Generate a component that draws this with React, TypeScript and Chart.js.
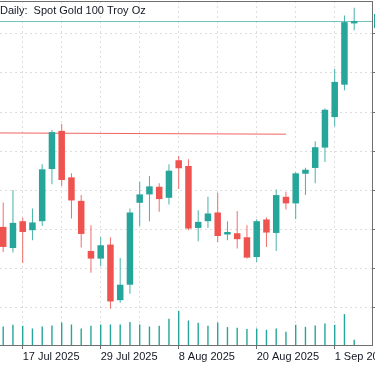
import { useEffect, useRef } from 'react';
import { Chart, registerables } from 'chart.js';

Chart.register(...registerables);

// ---------- data ----------
const dates = [
  '15 Jul 2025', '16 Jul 2025', '17 Jul 2025', '18 Jul 2025', '21 Jul 2025', '22 Jul 2025', '23 Jul 2025',
  '24 Jul 2025', '25 Jul 2025', '28 Jul 2025', '29 Jul 2025', '30 Jul 2025', '31 Jul 2025', '1 Aug 2025',
  '4 Aug 2025', '5 Aug 2025', '6 Aug 2025', '7 Aug 2025', '8 Aug 2025', '11 Aug 2025', '12 Aug 2025',
  '13 Aug 2025', '14 Aug 2025', '15 Aug 2025', '18 Aug 2025', '19 Aug 2025', '20 Aug 2025', '21 Aug 2025',
  '22 Aug 2025', '25 Aug 2025', '26 Aug 2025', '27 Aug 2025', '28 Aug 2025', '29 Aug 2025', '1 Sep 2025',
  '2 Sep 2025', '3 Sep 2025',
];

const openP = [3362.7, 3341.1, 3368.5, 3359.3, 3368.5, 3421.8, 3460.8, 3413.3, 3389.3, 3338.1, 3330.3, 3344.6, 3287.8, 3303.6, 3387.3, 3395.9, 3403.7, 3392.4, 3430.8, 3424.9, 3361.6, 3368.5, 3377.4, 3354.9, 3356.2, 3352.1, 3331.9, 3370.3, 3356.5, 3393.4, 3386.7, 3417.0, 3422.9, 3443.7, 3474.9, 3508.0, 3570.6];
const highP = [3387.7, 3400.3, 3371.9, 3381.5, 3426.7, 3461.8, 3467.7, 3417.4, 3395.2, 3364.4, 3352.4, 3352.1, 3330.9, 3381.5, 3408.8, 3414.7, 3407.2, 3426.7, 3435.2, 3431.8, 3379.8, 3393.4, 3397.5, 3368.5, 3378.8, 3364.4, 3370.6, 3372.3, 3401.0, 3398.6, 3418.5, 3423.2, 3450.3, 3483.7, 3524.1, 3578.8, 3586.7];
const lowP = [3337.0, 3336.4, 3325.7, 3349.0, 3363.7, 3406.2, 3404.4, 3371.3, 3341.5, 3315.9, 3322.7, 3279.0, 3285.1, 3294.4, 3363.7, 3368.5, 3378.1, 3385.6, 3401.3, 3359.3, 3348.0, 3361.6, 3347.3, 3349.0, 3340.5, 3330.5, 3326.8, 3342.2, 3338.1, 3380.5, 3370.6, 3395.2, 3407.2, 3429.0, 3465.2, 3502.2, 3563.7];
const closeP = [3342.2, 3366.8, 3357.5, 3367.2, 3421.5, 3459.5, 3410.6, 3389.7, 3355.5, 3330.3, 3343.9, 3286.5, 3303.6, 3377.4, 3395.9, 3404.1, 3391.1, 3420.1, 3422.6, 3361.0, 3367.8, 3376.4, 3353.4, 3357.5, 3350.1, 3331.3, 3368.5, 3356.9, 3395.2, 3386.7, 3417.4, 3421.1, 3444.1, 3482.4, 3510.8, 3571.9, 3573.1];
const volume = [18500, 20200, 19200, 16500, 18500, 19500, 22500, 20500, 16500, 19200, 20500, 20500, 20500, 22900, 20500, 18500, 19200, 26200, 34200, 24500, 22200, 19200, 22500, 17900, 17200, 15900, 16500, 15200, 16500, 13200, 20200, 18200, 19500, 21500, 20200, 30900, 5200];

// resistance line (start index, end index) and its levels
const resistanceX = [-1, 29];
const resistanceY = [3458.7, 3457.4];

// axis ticks
const priceTicks = [3280, 3320, 3360, 3400, 3440, 3480, 3520, 3560];
const gridTickIdx = [2, 6, 10, 14, 18, 22, 26, 30, 34];
const labelTickIdx = [2, 10, 18, 26, 34];

const titleText = 'Daily:  Spot Gold 100 Troy Oz';

// ---------- style ----------
const UP = '#26a69a';
const DOWN = '#ef5350';
const GRID = 'rgba(0,0,0,0.13)';
const AXIS = '#6f6f6f';
const TEXT = '#131722';
const FONT = '"Liberation Sans", Arial, sans-serif';

const X_MIN = -0.328;
const X_MAX = 37.826;
const Y_MIN = 3242.0;
const Y_MAX = 3593.5;
const VOL_MAX = 344000;

const overlayPlugin = {
  id: 'overlay',
  beforeDraw(chart: any) {
    const { ctx, width, height } = chart;
    ctx.save();
    ctx.fillStyle = '#ffffff';
    ctx.fillRect(0, 0, width, height);
    ctx.restore();
  },
  beforeDatasetsDraw(chart: any) {
    const { ctx, chartArea } = chart;
    const y = chart.scales.y.getPixelForValue(closeP[closeP.length - 1]);
    ctx.save();
    ctx.strokeStyle = 'rgba(38,166,154,0.65)';
    ctx.lineWidth = 1;
    ctx.beginPath();
    ctx.moveTo(0, Math.round(y) + 0.5);
    ctx.lineTo(chartArea.right, Math.round(y) + 0.5);
    ctx.stroke();
    ctx.restore();
  },
  afterDraw(chart: any) {
    const { ctx, chartArea, width } = chart;
    ctx.save();
    // top frame
    ctx.strokeStyle = AXIS;
    ctx.lineWidth = 1;
    ctx.beginPath();
    ctx.moveTo(0, chartArea.top + 0.5);
    ctx.lineTo(chartArea.right + 1, chartArea.top + 0.5);
    ctx.stroke();
    // title
    ctx.fillStyle = TEXT;
    ctx.font = '11px ' + FONT;
    ctx.textAlign = 'left';
    ctx.textBaseline = 'alphabetic';
    ctx.fillText(titleText, 0, chartArea.top + 13);
    // price tag on the right axis
    const y = chart.scales.y.getPixelForValue(closeP[closeP.length - 1]);
    ctx.fillStyle = UP;
    ctx.fillRect(chartArea.right + 2, y - 7, width, 14);
    ctx.restore();
  },
};

export default function App() {
  const ref = useRef<HTMLCanvasElement>(null);

  useEffect(() => {
    document.body.style.margin = '0';
    const idx = dates.map((_, i) => i);
    const colors = idx.map((i) => (closeP[i] >= openP[i] ? UP : DOWN));

    const chart = new Chart(ref.current as HTMLCanvasElement, {
      type: 'bar',
      data: {
        datasets: [
          {
            type: 'line',
            data: resistanceX.map((x, i) => ({ x, y: resistanceY[i] })),
            borderColor: 'rgba(239,83,80,0.9)',
            borderWidth: 1,
            pointRadius: 0,
            yAxisID: 'y',
            order: 6,
          } as any,
          {
            data: idx.map((i) => ({ x: i, y: volume[i] })),
            backgroundColor: UP,
            barThickness: 1.4,
            grouped: false,
            inflateAmount: 0,
            yAxisID: 'y2',
            order: 5,
          },
          {
            data: idx.map((i) => ({ x: i, y: [lowP[i], highP[i]] })),
            backgroundColor: colors.map((c) => (c === UP ? 'rgba(38,166,154,0.85)' : 'rgba(239,83,80,0.85)')),
            barThickness: 1,
            grouped: false,
            inflateAmount: 0,
            yAxisID: 'y',
            order: 2,
          },
          {
            data: idx.map((i) => ({ x: i, y: [openP[i], closeP[i]] })),
            backgroundColor: colors,
            barThickness: 6.5,
            grouped: false,
            inflateAmount: 0,
            yAxisID: 'y',
            order: 1,
          },
        ] as any,
      },
      options: {
        animation: false,
        responsive: false,
        devicePixelRatio: 1,
        layout: { padding: { top: 1, left: 0, right: 0, bottom: 0 } },
        plugins: { legend: { display: false }, tooltip: { enabled: false } },
        events: [],
        scales: {
          x: {
            type: 'linear',
            min: X_MIN,
            max: X_MAX,
            bounds: 'data',
            offset: false,
            afterBuildTicks: (s: any) => {
              s.ticks = gridTickIdx.map((v) => ({ value: v }));
            },
            afterFit: (s: any) => {
              s.height = 21;
              s.paddingLeft = 0;
              s.paddingRight = 0;
            },
            ticks: {
              autoSkip: false,
              maxRotation: 0,
              minRotation: 0,
              align: 'start',
              padding: 1,
              color: TEXT,
              font: { family: FONT, size: 11 },
              callback: (v: any) => (labelTickIdx.includes(v) ? dates[v] : ''),
            },
            grid: {
              offset: false,
              color: GRID,
              lineWidth: 1,
              tickLength: 4,
              tickWidth: 1,
              tickBorderDash: [],
              tickColor: (c: any) => (c.tick && labelTickIdx.includes(c.tick.value) ? AXIS : 'rgba(0,0,0,0)'),
            },
            border: { display: true, color: AXIS, width: 1, dash: [2, 3] },
          } as any,
          y: {
            type: 'linear',
            position: 'right',
            min: Y_MIN,
            max: Y_MAX,
            bounds: 'data',
            afterBuildTicks: (s: any) => {
              s.ticks = priceTicks.map((v) => ({ value: v }));
            },
            afterFit: (s: any) => {
              s.width = 3;
              s.paddingTop = 0;
              s.paddingBottom = 0;
            },
            ticks: { color: TEXT, font: { family: FONT, size: 11 }, padding: 4 },
            grid: { color: GRID, lineWidth: 1, tickLength: 3, tickColor: AXIS, tickBorderDash: [] },
            border: { display: true, color: AXIS, width: 1, dash: [2, 3] },
          } as any,
          y2: {
            type: 'linear',
            display: false,
            min: 0,
            max: VOL_MAX,
            bounds: 'data',
          } as any,
        },
      } as any,
      plugins: [overlayPlugin],
    });
    return () => chart.destroy();
  }, []);

  return (
    <div style={{ width: 375, height: 366, position: 'relative' }}>
      <canvas ref={ref} width={375} height={366} style={{ display: 'block' }} />
    </div>
  );
}
